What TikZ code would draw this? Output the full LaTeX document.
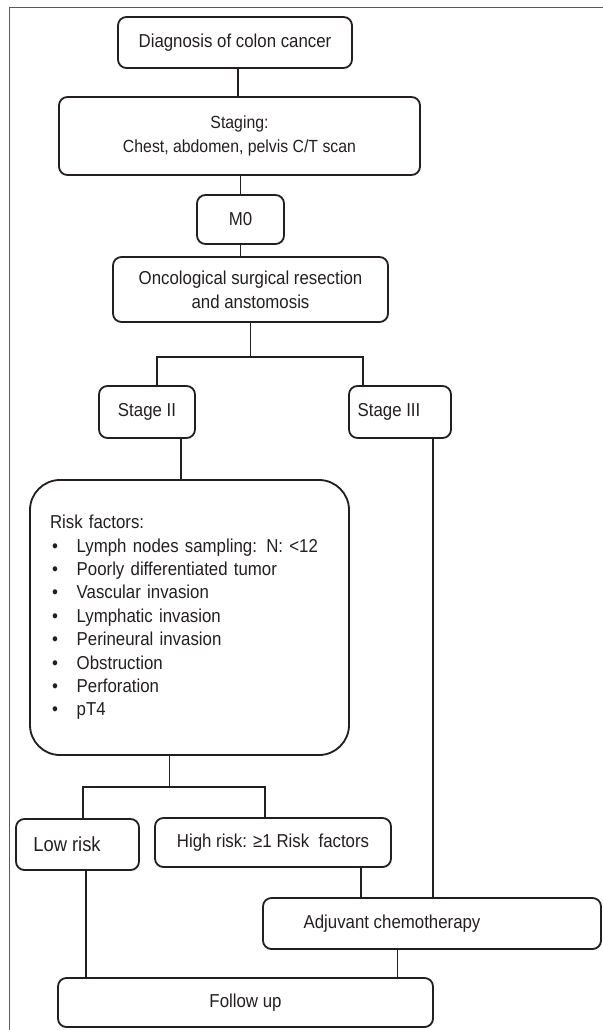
\documentclass[tikz,border=0pt]{standalone}
\usepackage{fontspec}
\setmainfont{Liberation Sans}[FakeStretch=0.9]
\usetikzlibrary{positioning,calc}
\definecolor{ink}{RGB}{35,31,32}
\definecolor{frame}{RGB}{90,90,90}
\newlength{\px}
\setlength{\px}{0.025cm}
\newcommand{\riskitem}[1]{\makebox[19pt][l]{\kern1.5pt\textbullet}#1}

\begin{document}
\begin{tikzpicture}[
    x=0.025cm, y=-0.025cm,
    box/.style={draw=ink, line width=1.3pt, rounded corners=6pt, align=center, text=ink, inner sep=0pt, font=\fontsize{13.3}{17}\selectfont},
    link/.style={draw=ink, line width=1.4pt}
]
\useasboundingbox (0,0) rectangle (603,1030);

% Frame
\draw[frame, line width=0.6pt] (9,1030) -- (9,7) -- (603,7);

% Diagnosis and staging
\node[box, minimum width=234*\px, minimum height=51*\px] (diag) at (235,42.5) {Diagnosis of colon cancer};
\node[box, minimum width=361*\px, minimum height=78*\px, font=\fontsize{12.5}{17}\selectfont] (staging) at (239.5,136) {Staging:\\Chest, abdomen, pelvis C/T scan};
\node[box, minimum width=87*\px, minimum height=49*\px] (m0) at (240.5,219.5) {M0};
\node[box, minimum width=275*\px, minimum height=65*\px] (onco) at (250.5,289.5) {Oncological surgical resection\\and anstomosis};

\draw[link] ([xshift=3*\px]diag.south) -- ([xshift=3*\px]diag.south |- staging.north);
\draw[link] (m0.north) -- (m0.north |- staging.south);
\draw[link] (m0.south) -- (m0.south |- onco.north);

% Stages
\node[box, minimum width=96*\px, minimum height=52*\px] (stage2) at (147,412) {Stage II};
\node[box, minimum width=102*\px, minimum height=52*\px] (stage3) at (400,412) {Stage III\hspace{22\px}};

\draw[link] (onco.south) -- ++(0,34) coordinate (fork1);
\draw[link] ([xshift=10*\px]stage2.north) |- (fork1) -| ([xshift=-37*\px]stage3.north);

% Risk factors
\node[box, minimum width=319*\px, minimum height=275*\px, rounded corners=30*\px, text width=279*\px, align=left, font=\fontsize{13.3}{16.6}\selectfont] (risk) at (189.5,617.5) {Risk factors:\\
\riskitem{Lymph nodes sampling: N: <12}\\
\riskitem{Poorly differentiated tumor}\\
\riskitem{Vascular invasion}\\
\riskitem{Lymphatic invasion}\\
\riskitem{Perineural invasion}\\
\riskitem{Obstruction}\\
\riskitem{Perforation}\\
\riskitem{pT4}};

\draw[link] ([xshift=34*\px]stage2.south) -- ([xshift=34*\px]stage2.south |- risk.north);

% Risk groups
\node[box, minimum width=123*\px, minimum height=51*\px, font=\fontsize{14.5}{17}\selectfont] (low) at (77.5,844.5) {Low risk\hspace{21\px}};
\node[box, minimum width=236*\px, minimum height=49*\px] (high) at (273,842.5) {High risk: ≥1 Risk~ factors};

\draw[link] ([xshift=-20*\px]risk.south) -- ++(0,31) coordinate (fork2);
\draw[link] ([xshift=5.5*\px]low.north) |- (fork2) -| ([xshift=-8*\px]high.north);

% Treatment
\node[box, minimum width=338*\px, minimum height=51*\px] (adj) at (432,923.5) {Adjuvant chemotherapy\hspace{80\px}};
\node[box, minimum width=375*\px, minimum height=49*\px] (follow) at (245.5,1002.5) {Follow up};

\draw[link] ([xshift=88*\px]high.south) -- ([xshift=88*\px]high.south |- adj.north);
\draw[link] ([xshift=33*\px]stage3.south) -- ([xshift=33*\px]stage3.south |- adj.north);
\draw[link] ([xshift=8.5*\px]low.south) -- ([xshift=8.5*\px]low.south |- follow.north);
\draw[link] ([xshift=-34.5*\px]adj.south) -- ([xshift=-34.5*\px]adj.south |- follow.north);

\end{tikzpicture}
\end{document}
